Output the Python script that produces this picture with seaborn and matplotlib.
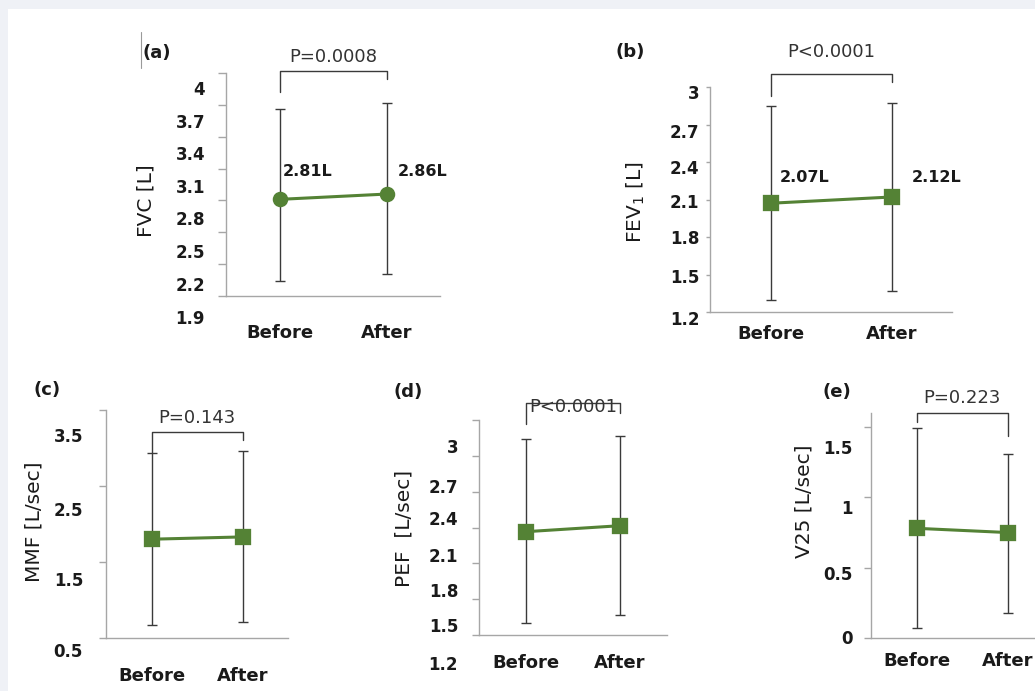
import matplotlib
matplotlib.use("Agg")
import matplotlib.pyplot as plt
import matplotlib.transforms as mtransforms
from matplotlib.patches import Rectangle
from matplotlib.lines import Line2D
import seaborn as sns

sns.set_style("white")
plt.rcParams["font.family"] = ["DejaVu Sans"]

cats = ["Before", "After"]

fvc_mean = [2.81, 2.86]
fvc_low = [2.04, 2.11]
fvc_high = [3.66, 3.72]

fev1_mean = [2.07, 2.12]
fev1_low = [1.30, 1.365]
fev1_high = [2.85, 2.875]

mmf_mean = [1.80, 1.83]
mmf_low = [0.67, 0.71]
mmf_high = [2.93, 2.96]

pef_mean = [2.065, 2.115]
pef_low = [1.30, 1.37]
pef_high = [2.84, 2.87]

v25_mean = [0.78, 0.75]
v25_low = [0.07, 0.18]
v25_high = [1.49, 1.31]

p_texts = ["P=0.0008", "P<0.0001", "P=0.143", "P<0.0001", "P=0.223"]
value_labels = [["2.81L", "2.86L"], ["2.07L", "2.12L"], None, None, None]

ylabels = ["FVC [L]", r"FEV$_\mathregular{1}$ [L]", "MMF [L/sec]", "PEF  [L/sec]", "V25 [L/sec]"]
panel_tags = ["(a)", "(b)", "(c)", "(d)", "(e)"]

yticks = [
    [1.9, 2.2, 2.5, 2.8, 3.1, 3.4, 3.7, 4.0],
    [1.2, 1.5, 1.8, 2.1, 2.4, 2.7, 3.0],
    [0.5, 1.5, 2.5, 3.5],
    [1.2, 1.5, 1.8, 2.1, 2.4, 2.7, 3.0],
    [0, 0.5, 1.0, 1.5],
]
ytick_labels = [
    ["1.9", "2.2", "2.5", "2.8", "3.1", "3.4", "3.7", "4"],
    ["1.2", "1.5", "1.8", "2.1", "2.4", "2.7", "3"],
    ["0.5", "1.5", "2.5", "3.5"],
    ["1.2", "1.5", "1.8", "2.1", "2.4", "2.7", "3"],
    ["0", "0.5", "1", "1.5"],
]
ylims = [(1.9, 4.0), (1.2, 3.0), (0.5, 3.5), (1.2, 3.0), (0, 1.6)]

# bracket: top, left leg end, right leg end, p-text height
brackets = [
    (4.02, 3.82, 3.94, 4.15),
    (3.107, 2.93, 3.04, 3.28),
    (3.21, 2.93, 3.10, 3.40),
    (3.14, 2.97, 3.06, 3.11),
    (1.60, 1.535, 1.44, 1.71),
]

series = [
    (fvc_mean, fvc_low, fvc_high),
    (fev1_mean, fev1_low, fev1_high),
    (mmf_mean, mmf_low, mmf_high),
    (pef_mean, pef_low, pef_high),
    (v25_mean, v25_low, v25_high),
]
markers = ["o", "s", "s", "s", "s"]

# layout in pixels: left, right, top, bottom of each axes
W, H = 1035, 691
boxes = [(226, 440, 73, 296), (710, 952, 87, 312), (106, 288, 410, 638),
         (479, 667, 420, 635), (871, 1053, 413, 638)]
# the original's tick labels sit below their tick marks (pixels, bottom tick first)
tick_shift = [
    [21, 20, 19, 18, 17, 16, 16, 15],
    [6, 1, 0, 1, 5, 6, 5],
    [12, 17, 23, 25],
    [28, 26, 27, 27, 26, 30, 26],
    [-1, 5, 10, 20],
]
ytick_pad = [9.5, 4.5, 11.5, 10, 8.5]
ytick_len = [5.5, 3, 5, 5, 5]
xtick_pad = [20, 9, 21, 13.5, 10]
tag_pos = [(157, 53), (630, 52), (47, 390), (408, 392), (837, 392)]
ylabel_pos = [(155, 201), (647, 202), (43, 522), (413, 528), (813, 501)]
vlabel_pos = [[(0.266, 3.07), (1.34, 3.07)], [(0.285, 2.28), (1.376, 2.28)]]

green = "#548235"
dark = "#3a3a3a"
axis_grey = "#a6a6a6"

fig = plt.figure(figsize=(W / 100, H / 100), dpi=100)
fig.patch.set_facecolor("#eff1f6")
fig.patches.append(Rectangle((8 / W, 0), 1, 1 - 9 / H, transform=fig.transFigure,
                             facecolor="white", edgecolor="none", zorder=-10))
fig.add_artist(Line2D([141 / W, 141 / W], [1 - 32 / H, 1 - 68 / H], color="#9a9a9a", lw=0.8))

for i in range(5):
    left, right, top, bottom = boxes[i]
    ax = fig.add_axes([left / W, 1 - bottom / H, (right - left) / W, (bottom - top) / H])
    ax.set_facecolor("none")
    mean, low, high = series[i]

    yerr = [[m - l for m, l in zip(mean, low)], [h - m for m, h in zip(mean, high)]]
    ax.errorbar([0, 1], mean, yerr=yerr, fmt="none", ecolor=dark, elinewidth=1,
                capsize=3.5, capthick=1, zorder=1)
    sns.pointplot(x=cats, y=mean, color=green, markers=markers[i], markersize=9.5,
                  linewidth=2.2, errorbar=None, ax=ax)
    for art in ax.collections + ax.lines:
        if art.get_zorder() >= 2:
            art.set_zorder(3)

    ax.set_xlim(-0.5, 1.5)
    ax.set_ylim(*ylims[i])
    ax.set_yticks(yticks[i])
    ax.set_yticklabels(ytick_labels[i], fontsize=12, fontweight="bold", color="#1a1a1a")
    ax.set_xticks([0, 1])
    ax.set_xticklabels(cats, fontsize=13, fontweight="bold", color="#1a1a1a")
    ax.tick_params(axis="y", direction="out", length=ytick_len[i], width=1,
                   color=axis_grey, pad=ytick_pad[i], left=True)
    ax.tick_params(axis="x", length=0, pad=xtick_pad[i])
    sns.despine(ax=ax)
    for s in ["left", "bottom"]:
        ax.spines[s].set_color(axis_grey)
        ax.spines[s].set_linewidth(1)

    for lab, dy in zip(ax.get_yticklabels(), tick_shift[i]):
        shift = mtransforms.ScaledTranslation(0, -dy / 100, fig.dpi_scale_trans)
        lab.set_transform(lab.get_transform() + shift)

    top_y, l_end, r_end, p_y = brackets[i]
    ax.plot([0, 0, 1, 1], [l_end, top_y, top_y, r_end], color=dark, lw=1, clip_on=False)
    ax.text(0.5, p_y, p_texts[i], ha="center", va="center", fontsize=13, color="#333333")

    if value_labels[i] is not None:
        for txt, (vx, vy) in zip(value_labels[i], vlabel_pos[i]):
            ax.text(vx, vy, txt, ha="center", va="center", fontsize=11.5,
                    fontweight="bold", color="#1a1a1a")

    ax.set_ylabel(ylabels[i], fontsize=14.5, color="#1a1a1a")
    ax.yaxis.set_label_coords(ylabel_pos[i][0] / W, 1 - ylabel_pos[i][1] / H,
                              transform=fig.transFigure)

    fig.text(tag_pos[i][0] / W, 1 - tag_pos[i][1] / H, panel_tags[i], ha="center",
             va="center", fontsize=13, fontweight="bold", color="#1a1a1a")

fig.savefig("out.png", dpi=100)
